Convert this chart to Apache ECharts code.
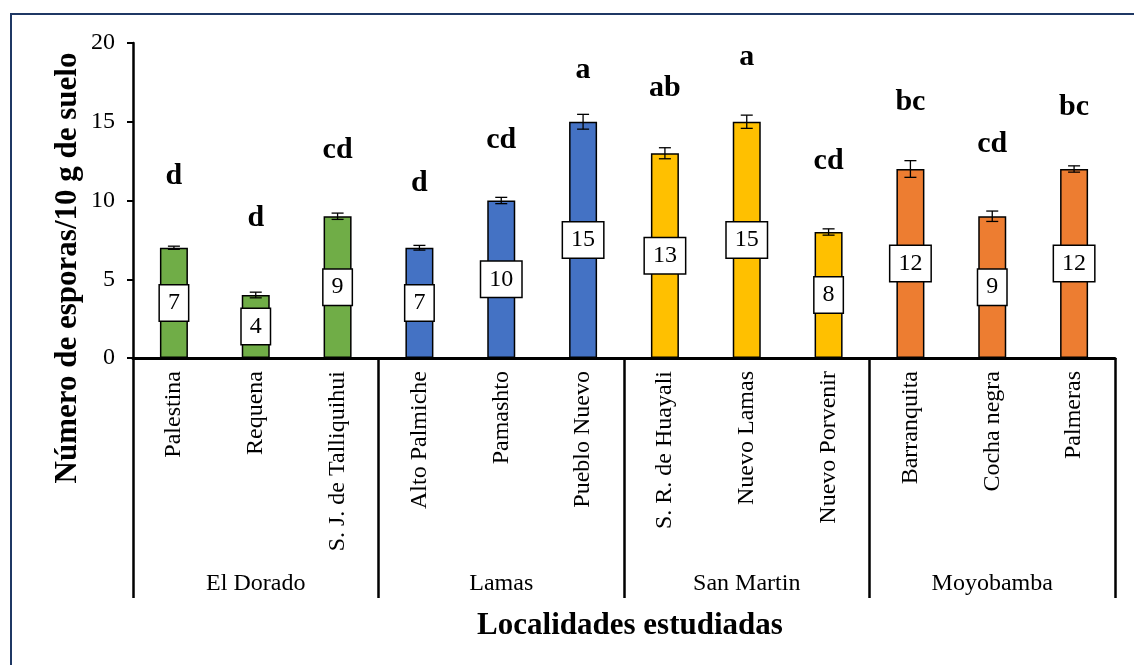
<!DOCTYPE html>
<html>
<head>
<meta charset="utf-8">
<title>Número de esporas por localidad</title>
<script src="https://cdn.jsdelivr.net/npm/echarts@6/dist/echarts.min.js"></script>
<style>
  html, body { margin: 0; padding: 0; width: 1134px; height: 665px; overflow: hidden; background: #fff; }
  #frame { position: absolute; left: 10px; top: 13px; width: 1200px; height: 700px; border: 2px solid #1F3864; box-sizing: border-box; }
  #chart { position: absolute; left: 0; top: 0; width: 1134px; height: 665px; }
</style>
</head>
<body>
<div id="frame"></div>
<div id="chart"></div>
<script>
// Provincias (nivel superior del eje) y localidades muestreadas
const provincias = ['El Dorado', 'Lamas', 'San Martin', 'Moyobamba'];
const localidades = ['Palestina', 'Requena', 'S. J. de Talliquihui',
  'Alto Palmiche', 'Pamashto', 'Pueblo Nuevo',
  'S. R. de Huayali', 'Nuevo Lamas', 'Nuevo Porvenir',
  'Barranquita', 'Cocha negra', 'Palmeras'];
const provinciaDe = [0, 0, 0, 1, 1, 1, 2, 2, 2, 3, 3, 3];

// Número medio de esporas / 10 g de suelo y su error
const esporas = [7, 4, 9, 7, 10, 15, 13, 15, 8, 12, 9, 12];
const errores = [0.1, 0.18, 0.2, 0.15, 0.2, 0.47, 0.35, 0.42, 0.2, 0.53, 0.33, 0.2];

// Letras de significancia y altura (en unidades del eje Y) donde se escriben
const letras = ['d', 'd', 'cd', 'd', 'cd', 'a', 'ab', 'a', 'cd', 'bc', 'cd', 'bc'];
const alturaLetra = [11.55, 8.9, 13.2, 11.1, 13.85, 18.3, 17.1, 19.1, 12.5, 16.25, 13.6, 15.9];

const yTicks = { min: 0, max: 20, interval: 5 };

const coloresProvincia = ['#70AD47', '#4472C4', '#FFC000', '#ED7D31'];
const serif = 'Liberation Serif, Times New Roman, serif';

const chart = echarts.init(document.getElementById('chart'), null, { renderer: 'canvas' });

const barData = esporas.map((v, i) => ({
  value: v,
  itemStyle: { color: coloresProvincia[provinciaDe[i]] }
}));

const option = {
  animation: false,
  backgroundColor: 'transparent',
  title: {
    text: 'Localidades estudiadas',
    left: 625, top: 605, textAlign: 'center',
    textStyle: { fontFamily: serif, fontSize: 31, fontWeight: 'bold', color: '#000' }
  },
  graphic: [
    {
      type: 'text',
      x: 68, y: 268,
      rotation: Math.PI / 2,
      style: {
        text: 'Número de esporas/10 g de suelo',
        fontFamily: serif, fontSize: 31, fontWeight: 'bold',
        fill: '#000', align: 'center', verticalAlign: 'middle'
      }
    }
  ],
  grid: { left: 133, right: 19, top: 43, bottom: 307, containLabel: false },
  xAxis: [
    {
      type: 'category',
      data: localidades,
      position: 'bottom',
      axisLine: { show: true, lineStyle: { color: '#000', width: 3 } },
      axisTick: { show: false },
      axisLabel: {
        rotate: 90, margin: 13, interval: 0,
        fontFamily: serif, fontSize: 24, color: '#000'
      },
      splitLine: { show: false }
    },
    {
      type: 'category',
      data: provincias,
      position: 'bottom',
      axisLine: { show: false },
      axisTick: { show: true, length: 240, lineStyle: { color: '#000', width: 2.5 } },
      axisLabel: { margin: 214, interval: 0, fontFamily: serif, fontSize: 24, color: '#000' },
      splitLine: { show: false }
    }
  ],
  yAxis: {
    type: 'value',
    min: yTicks.min, max: yTicks.max, interval: yTicks.interval,
    axisLine: { show: true, lineStyle: { color: '#000', width: 2.5 } },
    axisTick: { show: true, length: 6, lineStyle: { color: '#000', width: 2 } },
    axisLabel: { margin: 18, fontFamily: serif, fontSize: 24, color: '#000' },
    splitLine: { show: false }
  },
  series: [
    {
      type: 'bar',
      xAxisIndex: 0, yAxisIndex: 0,
      data: barData,
      barWidth: 28,
      itemStyle: { borderColor: '#000', borderWidth: 1.5 },
      label: {
        show: true,
        position: 'inside',
        formatter: p => String(p.value),
        fontFamily: serif, fontSize: 24, color: '#000',
        backgroundColor: '#fff',
        borderColor: '#000', borderWidth: 1.5,
        padding: [6, 8, 5, 8]
      },
      z: 2
    },
    {
      // barras de error
      type: 'custom',
      xAxisIndex: 0, yAxisIndex: 0,
      data: esporas.map((v, i) => [i, v, errores[i]]),
      renderItem: (params, api) => {
        const x = api.value(0);
        const v = api.value(1);
        const e = api.value(2);
        const hi = api.coord([x, v + e]);
        const lo = api.coord([x, v - e]);
        const cap = 6;
        const style = { stroke: '#000', lineWidth: 1.3 };
        return {
          type: 'group',
          children: [
            { type: 'line', shape: { x1: hi[0], y1: hi[1], x2: lo[0], y2: lo[1] }, style },
            { type: 'line', shape: { x1: hi[0] - cap, y1: hi[1], x2: hi[0] + cap, y2: hi[1] }, style },
            { type: 'line', shape: { x1: lo[0] - cap, y1: lo[1], x2: lo[0] + cap, y2: lo[1] }, style }
          ]
        };
      },
      z: 3
    },
    {
      // letras de significancia
      type: 'custom',
      xAxisIndex: 0, yAxisIndex: 0,
      data: alturaLetra.map((h, i) => [i, h]),
      renderItem: (params, api) => {
        const p = api.coord([api.value(0), api.value(1)]);
        return {
          type: 'text',
          x: p[0], y: p[1],
          style: {
            text: letras[params.dataIndex],
            fontFamily: serif, fontSize: 30, fontWeight: 'bold',
            fill: '#000', align: 'center', verticalAlign: 'middle'
          }
        };
      },
      z: 4
    }
  ]
};

chart.setOption(option);
</script>
</body>
</html>
